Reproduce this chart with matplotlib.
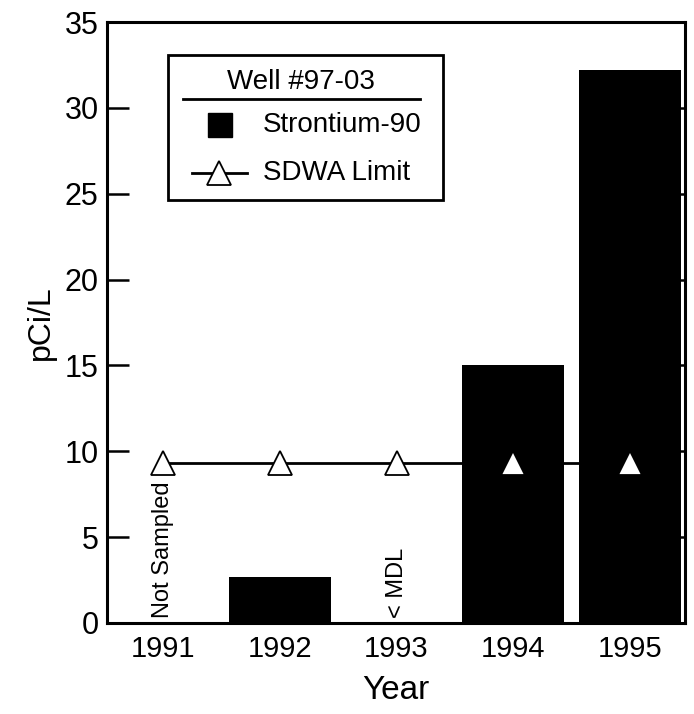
import matplotlib.pyplot as plt
import numpy as np
from matplotlib.patches import Rectangle
from matplotlib.lines import Line2D

plt.rcParams['font.family'] = ['Liberation Sans', 'DejaVu Sans']

# Data
years = ['1991', '1992', '1993', '1994', '1995']
sr90 = [0.0, 2.7, 0.0, 15.0, 32.2]          # pCi/L, 1991 not sampled, 1993 < MDL
sdwa_limit = [9.3, 9.3, 9.3, 9.3, 9.3]
notes = {0: 'Not Sampled', 2: '< MDL'}
yticks = [0, 5, 10, 15, 20, 25, 30, 35]

fig = plt.figure(figsize=(6.94, 7.14), dpi=100)
ax = fig.add_axes([0.154, 0.1275, 0.833, 0.8415])

x = np.arange(len(years))

# SDWA line behind the bars, triangles on top
ax.plot(x, sdwa_limit, color='black', lw=2, zorder=1)
ax.bar(x, sr90, width=0.87, color='black', zorder=2)
ax.plot(x, sdwa_limit, ls='none', marker='^', ms=17, mfc='white',
        mec='black', mew=1.3, zorder=3)

for i, txt in notes.items():
    ax.text(x[i], 0.3, txt, rotation=90, ha='center', va='bottom',
            fontsize=17)

ax.set_xlim(-0.48, 4.47)
ax.set_ylim(0, 35)
ax.set_xticks(x)
ax.set_xticklabels(years)
ax.set_yticks(yticks)
ax.tick_params(axis='x', length=0, pad=9, labelsize=21)
ax.tick_params(axis='y', direction='in', length=16, width=1.8,
               labelsize=22, pad=6, right=True)
for t in ax.yaxis.get_ticklines()[1::2]:
    t.set_markersize(6)
for s in ax.spines.values():
    s.set_linewidth(2.2)

ax.set_xlabel('Year', fontsize=24, labelpad=8)
ax.set_ylabel('pCi/L', fontsize=23, labelpad=6)

# legend box drawn by hand
tr = ax.transAxes
ax.add_patch(Rectangle((0.1055, 0.704), 0.476, 0.241, transform=tr,
                       fill=False, ec='black', lw=2, zorder=5))
ax.text(0.336, 0.900, 'Well #97-03', transform=tr, ha='center',
        va='center', fontsize=20, zorder=5)
ax.add_line(Line2D([0.131, 0.5415], [0.872, 0.872], transform=tr,
                   color='black', lw=2, zorder=5))
ax.add_patch(Rectangle((0.1745, 0.8086), 0.042, 0.040, transform=tr,
                       fc='black', ec='black', zorder=5))
ax.text(0.27, 0.8286, 'Strontium-90', transform=tr, ha='left',
        va='center', fontsize=20, zorder=5)
ax.add_line(Line2D([0.147, 0.242], [0.749, 0.749], transform=tr,
                   color='black', lw=2, zorder=5))
ax.add_line(Line2D([0.194], [0.749], transform=tr, marker='^', ms=17,
                   mfc='white', mec='black', mew=1.3, zorder=6))
ax.text(0.27, 0.749, 'SDWA Limit', transform=tr, ha='left',
        va='center', fontsize=20, zorder=5)

fig.savefig('out.png', dpi=100)
